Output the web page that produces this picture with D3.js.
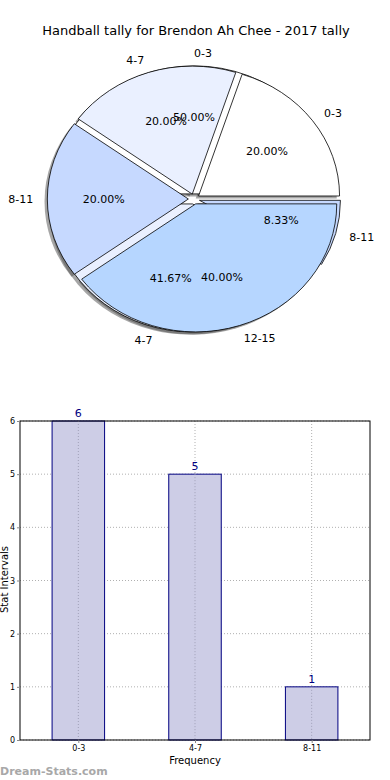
<!DOCTYPE html>
<html>
<head>
<meta charset="utf-8">
<script src="https://cdn.jsdelivr.net/npm/d3@7"></script>
<style>
  body { margin: 0; background: #fff; }
  svg { display: block; font-family: "DejaVu Sans", sans-serif; }
</style>
</head>
<body>
<div id="chart"></div>
<script>
// Data
const title = 'Handball tally for Brendon Ah Chee - 2017 tally';

// first pie: frequency share per interval (drawn underneath)
const pieALabels = ['0-3', '4-7', '8-11'];
const pieAValues = [6, 5, 1];

// second pie: drawn on top
const pieBLabels = ['0-3', '4-7', '8-11', '12-15'];
const pieBValues = [1, 1, 1, 2];

const sliceColors = ['#ffffff', '#eaf0ff', '#c6d9ff', '#b6d6ff'];

// bar chart
const barCategories = ['0-3', '4-7', '8-11'];
const barValues = [6, 5, 1];
const yTicks = [0, 1, 2, 3, 4, 5, 6];

const W = 390, H = 780;
const svg = d3.select('#chart').append('svg')
    .attr('width', W)
    .attr('height', H);

svg.append('text')
    .attr('x', W / 2 + 1)
    .attr('y', 35)
    .attr('text-anchor', 'middle')
    .style('font-size', '13px')
    .style('fill', '#000')
    .text(title);

// ---- Pie panel (elliptical, like an unequal-aspect matplotlib pie) ----
const pie = { cx: 194, cy: 199, rx: 141, ry: 128, explode: 0.04 };

// matplotlib starts at 3 o'clock and goes counter-clockwise
const pieGen = d3.pie().sort(null).startAngle(Math.PI / 2).endAngle(Math.PI / 2 - 2 * Math.PI);
const unitArc = d3.arc().innerRadius(0).outerRadius(1);

const slicesA = pieGen(pieAValues).map((d, i) => ({ ...d, label: pieALabels[i], color: sliceColors[i] }));
const slicesB = pieGen(pieBValues).map((d, i) => ({ ...d, label: pieBLabels[i], color: sliceColors[i] }));

const pieG = svg.append('g');
const mid = d => (d.startAngle + d.endAngle) / 2;
const off = d => ({
    x: pie.explode * pie.rx * Math.sin(mid(d)),
    y: -pie.explode * pie.ry * Math.cos(mid(d))
});

// shadows go under every wedge
[slicesA, slicesB].forEach(slices => {
    pieG.append('g').selectAll('path')
        .data(slices)
        .enter()
        .append('path')
        .attr('d', unitArc)
        .attr('transform', d => `translate(${pie.cx + off(d).x - 0.02 * pie.rx},${pie.cy + off(d).y + 0.02 * pie.ry}) scale(${pie.rx},${pie.ry})`)
        .attr('fill', '#4d4d4d')
        .attr('opacity', 0.5);
});

[slicesA, slicesB].forEach(slices => {
    pieG.append('g').selectAll('path')
        .data(slices)
        .enter()
        .append('path')
        .attr('d', unitArc)
        .attr('transform', d => `translate(${pie.cx + off(d).x},${pie.cy + off(d).y}) scale(${pie.rx},${pie.ry})`)
        .attr('fill', d => d.color)
        .attr('stroke', '#000')
        .attr('stroke-width', 0.8)
        .attr('vector-effect', 'non-scaling-stroke')
        .attr('stroke-linejoin', 'round');
});

// labels and percentages
[slicesA, slicesB].forEach(slices => {
    const total = d3.sum(slices, d => d.value);
    slices.forEach(d => {
        const a = mid(d);
        const sx = Math.sin(a), sy = -Math.cos(a);
        const o = off(d);
        pieG.append('text')
            .attr('x', pie.cx + o.x + 1.1 * pie.rx * sx)
            .attr('y', pie.cy + o.y + 1.1 * pie.ry * sy)
            .attr('dy', '0.35em')
            .attr('text-anchor', sx > -1e-9 ? 'start' : 'end')
            .style('font-size', '11px')
            .text(d.label);
        pieG.append('text')
            .attr('x', pie.cx + o.x + 0.6 * pie.rx * sx)
            .attr('y', pie.cy + o.y + 0.6 * pie.ry * sy)
            .attr('dy', '0.35em')
            .attr('text-anchor', 'middle')
            .style('font-size', '11px')
            .text(d3.format('.2f')(d.value / total * 100) + '%');
    });
});

// ---- Bar panel ----
const box = { left: 20, right: 370, top: 421, bottom: 740 };
const x = d3.scaleLinear().domain([-0.5, barCategories.length - 0.5]).range([box.left, box.right]);
const y = d3.scaleLinear().domain([0, 6]).range([box.bottom, box.top]);
const barW = 0.45;

const barG = svg.append('g');

// dotted grid
barG.append('g').selectAll('line')
    .data(yTicks)
    .enter()
    .append('line')
    .attr('x1', box.left).attr('x2', box.right)
    .attr('y1', d => y(d)).attr('y2', d => y(d))
    .attr('stroke', '#b0b0b0')
    .attr('stroke-dasharray', '1,2');

barG.append('g').selectAll('line')
    .data(barCategories)
    .enter()
    .append('line')
    .attr('x1', (d, i) => x(i)).attr('x2', (d, i) => x(i))
    .attr('y1', box.top).attr('y2', box.bottom)
    .attr('stroke', '#b0b0b0')
    .attr('stroke-dasharray', '1,2');

barG.append('g').selectAll('rect')
    .data(barValues)
    .enter()
    .append('rect')
    .attr('x', (d, i) => x(i - barW / 2))
    .attr('width', x(barW) - x(0))
    .attr('y', d => y(d))
    .attr('height', d => y(0) - y(d))
    .attr('fill', '#cdcde6')
    .attr('stroke', '#000080')
    .attr('stroke-width', 1);

// grid shows through the bars in the reference
barG.append('g').selectAll('line')
    .data(barValues)
    .enter()
    .append('line')
    .attr('x1', (d, i) => x(i)).attr('x2', (d, i) => x(i))
    .attr('y1', d => y(d)).attr('y2', box.bottom)
    .attr('stroke', '#a0a0b8')
    .attr('stroke-dasharray', '1,2');

barG.append('g').selectAll('text')
    .data(barValues)
    .enter()
    .append('text')
    .attr('x', (d, i) => x(i))
    .attr('y', d => y(d) - 4)
    .attr('text-anchor', 'middle')
    .style('font-size', '11px')
    .style('fill', '#000080')
    .text(d => d);

// frame
barG.append('rect')
    .attr('x', box.left).attr('y', box.top)
    .attr('width', box.right - box.left)
    .attr('height', box.bottom - box.top)
    .attr('fill', 'none')
    .attr('stroke', '#000')
    .attr('stroke-width', 1);

// axes
const yAxis = barG.append('g')
    .attr('transform', `translate(${box.left},0)`)
    .call(d3.axisLeft(y).tickValues(yTicks).tickSize(3).tickPadding(2).tickFormat(d3.format('d')));
yAxis.select('.domain').remove();
yAxis.selectAll('line').attr('stroke', '#888');
yAxis.selectAll('text').style('font-size', '8px').style('font-family', 'DejaVu Sans, sans-serif');

const xAxis = barG.append('g')
    .attr('transform', `translate(0,${box.bottom})`)
    .call(d3.axisBottom(x).tickValues(d3.range(barCategories.length)).tickSize(3).tickPadding(2).tickFormat(i => barCategories[i]));
xAxis.select('.domain').remove();
xAxis.selectAll('line').attr('stroke', '#888');
xAxis.selectAll('text').style('font-size', '8px').style('font-family', 'DejaVu Sans, sans-serif');

svg.append('text')
    .attr('x', (box.left + box.right) / 2)
    .attr('y', 764)
    .attr('text-anchor', 'middle')
    .style('font-size', '10px')
    .text('Frequency');

svg.append('text')
    .attr('transform', `translate(8,${(box.top + box.bottom) / 2 - 1}) rotate(-90)`)
    .attr('text-anchor', 'middle')
    .style('font-size', '10px')
    .text('Stat Intervals');

// watermark
svg.append('text')
    .attr('x', 0)
    .attr('y', 775)
    .style('font-size', '11px')
    .style('font-weight', 'bold')
    .style('fill', '#a8a8a8')
    .text('Dream-Stats.com');
</script>
</body>
</html>
